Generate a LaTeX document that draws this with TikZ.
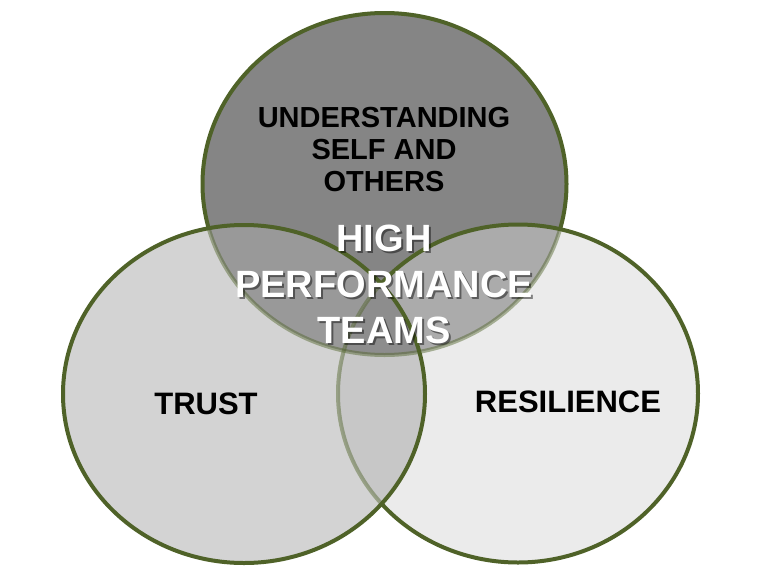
\documentclass[tikz,border=0pt]{standalone}
\usepackage{fontspec}
\setmainfont{Liberation Sans}
\begin{document}
\begin{tikzpicture}[x=1pt,y=-1pt]
\definecolor{vgreen}{HTML}{4F6228}
\definecolor{ctop}{HTML}{858585}
\definecolor{cright}{HTML}{EBEBEB}
\definecolor{cleft}{HTML}{D3D3D3}
\definecolor{ctl}{HTML}{999999}
\definecolor{ctr}{HTML}{ABABAB}
\definecolor{clr}{HTML}{C7C7C7}
\definecolor{call}{HTML}{8D8D8D}
\tikzset{
  solidline/.style={draw=vgreen, line width=4pt},
  fadedline/.style={draw=vgreen, draw opacity=0.45, line width=4pt},
  darklabel/.style={text=black, font=\bfseries\fontsize{29}{32}\selectfont, align=center, inner sep=0pt},
  sidelabel/.style={text=black, font=\bfseries\fontsize{31}{34}\selectfont, inner sep=0pt},
  whitelabel/.style={text=white, font=\bfseries\fontsize{38}{46}\selectfont, align=center, inner sep=0pt},
  shadowlabel/.style={text=black, text opacity=0.45, font=\bfseries\fontsize{38}{46}\selectfont, align=center, inner sep=0pt}
}
\def\topE{(384.5,184) ellipse [x radius=182pt, y radius=171pt]}
\def\leftE{(244,394) ellipse [x radius=181pt, y radius=169pt]}
\def\rightE{(518,393.5) ellipse [x radius=180pt, y radius=169pt]}
\useasboundingbox (0,0) rectangle (768,576);
\fill[white] (0,0) rectangle (768,576);
% fills
\fill[ctop] \topE;
\fill[cright] \rightE;
\fill[cleft] \leftE;
\begin{scope}\clip \topE; \fill[ctr] \rightE; \end{scope}
\begin{scope}\clip \topE; \fill[ctl] \leftE; \end{scope}
\begin{scope}\clip \leftE; \fill[clr] \rightE; \end{scope}
\begin{scope}\clip \topE; \clip \leftE; \fill[call] \rightE; \end{scope}
% top outline
\begin{scope}[even odd rule]
  \clip (-10,-10) rectangle (778,586) \leftE;
  \clip (-10,-10) rectangle (778,586) \rightE;
  \path[solidline] \topE;
\end{scope}
\begin{scope}\clip \leftE; \path[fadedline] \topE; \end{scope}
\begin{scope}[even odd rule]
  \clip (-10,-10) rectangle (778,586) \leftE;
  \clip \rightE; \path[fadedline] \topE;
\end{scope}
% right outline
\begin{scope}[even odd rule]
  \clip (-10,-10) rectangle (778,586) \leftE;
  \path[solidline] \rightE;
\end{scope}
\begin{scope}\clip \leftE; \path[fadedline] \rightE; \end{scope}
% left outline
\path[solidline] \leftE;
% labels
\node[darklabel] (usao) at (384,150) {UNDERSTANDING\\SELF AND\\OTHERS};
\node[sidelabel] (trust) at (206,404) {TRUST};
\node[sidelabel] (resil) at (568,402) {RESILIENCE};
\node[shadowlabel] (hpts) at (386,286) {HIGH\\PERFORMANCE\\TEAMS};
\node[whitelabel] (hpt) at (384,284) {HIGH\\PERFORMANCE\\TEAMS};
\end{tikzpicture}
\end{document}
